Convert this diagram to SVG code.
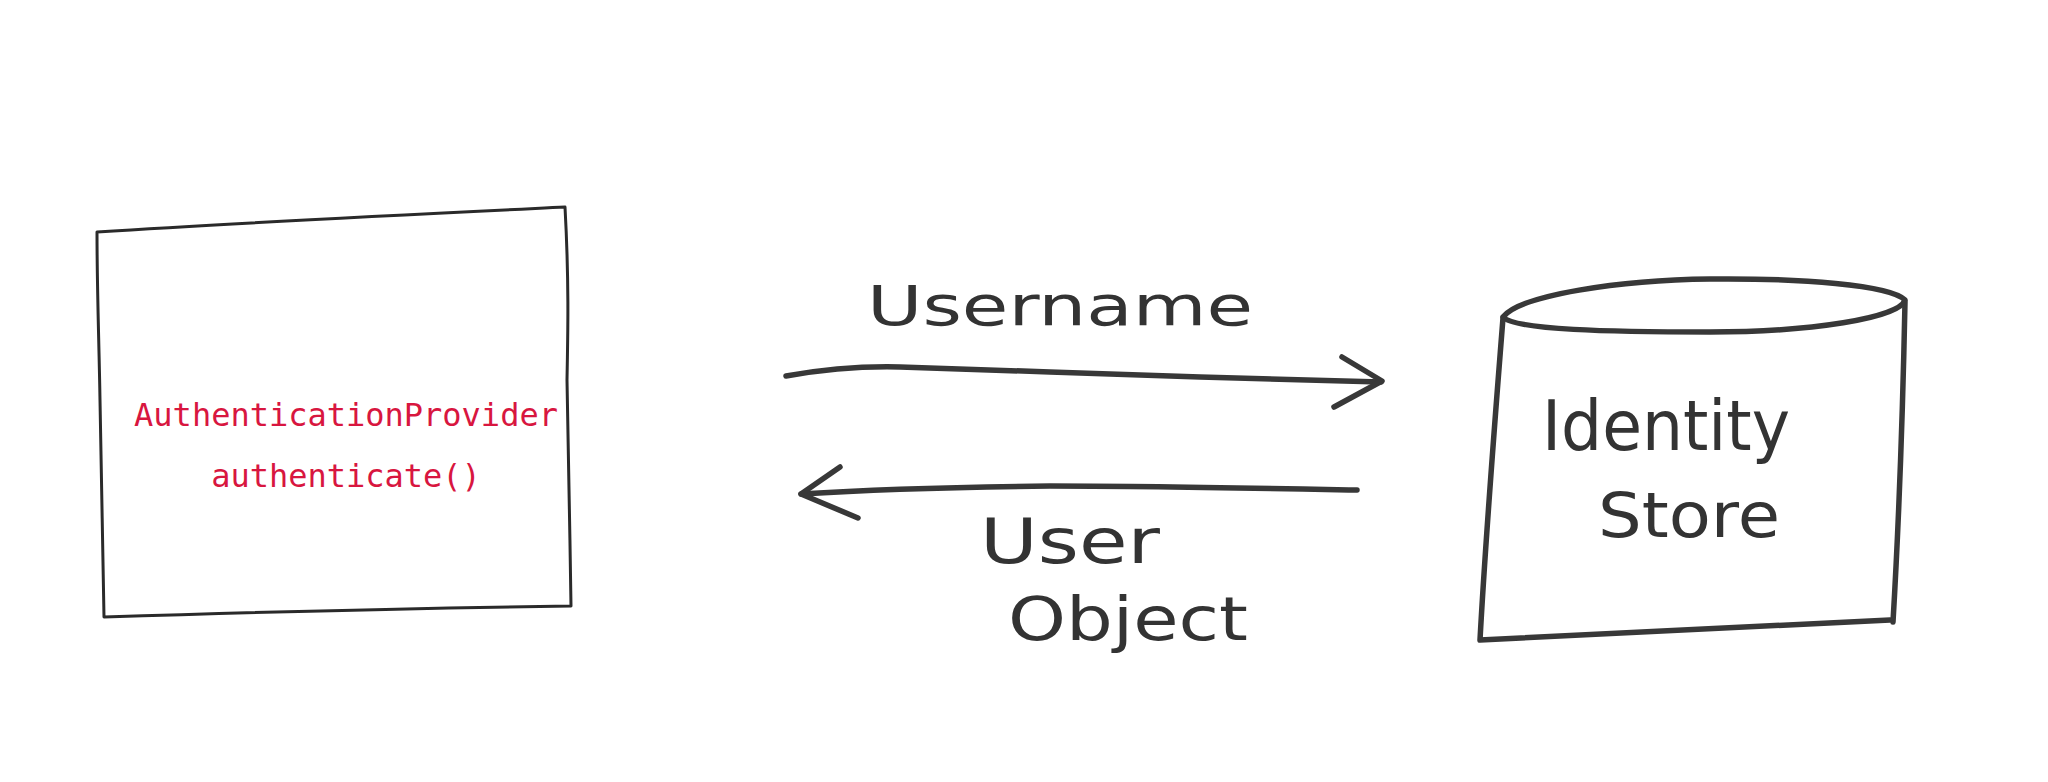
<svg xmlns="http://www.w3.org/2000/svg" width="2048" height="782" viewBox="0 0 2048 782">
<style>
.box{fill:none;stroke:#2a2a2a;stroke-width:3;stroke-linecap:round;stroke-linejoin:round}
.ink{fill:none;stroke:#383838;stroke-width:5.5;stroke-linecap:round;stroke-linejoin:round}
.code{font-family:"DejaVu Sans Mono","Liberation Mono",monospace;font-size:32px;fill:#d8163f;text-anchor:middle}
.hand{font-family:"DejaVu Sans","Liberation Sans",sans-serif;fill:#333333}
</style>
<rect width="2048" height="782" fill="#ffffff"/>
<g id="auth-provider">
<path class="box" d="M97,232 C250,222 420,214 565,207 C569,280 568,330 567,380 C568,450 570,530 571,606 C420,608 260,612 104,617 C103,540 101,480 100,400 C99,340 97,290 97,232 Z"/>
<text class="code" x="346" y="426">AuthenticationProvider</text>
<text class="code" x="346" y="487">authenticate()</text>
</g>
<g id="identity-store">
<path class="ink" d="M1503,317 C1520,295 1620,280 1710,279 C1800,278 1890,285 1905,300 C1900,318 1810,332 1710,332 C1610,332 1515,330 1503,317 Z"/>
<path class="ink" d="M1503,318 C1495,420 1486,530 1480,640 C1620,633 1760,626 1890,620"/>
<path class="ink" d="M1905,302 C1903,400 1899,520 1893,622"/>
<text class="hand" x="1542" y="450" font-size="70" textLength="248" lengthAdjust="spacingAndGlyphs">Identity</text>
<text class="hand" x="1598" y="537" font-size="62" textLength="182" lengthAdjust="spacingAndGlyphs">Store</text>
</g>
<g id="connectors">
<path class="ink" d="M786,376 C820,370 860,366 900,367 C1000,370 1100,374 1200,377 C1280,379 1340,381 1381,382"/>
<path class="ink" d="M1342,357 L1382,381 L1334,407"/>
<path class="ink" d="M1357,490 C1250,488 1150,486 1050,486 C960,487 880,489 801,494"/>
<path class="ink" d="M840,467 L801,494 L858,518"/>
<text class="hand" x="867" y="325" font-size="56" textLength="386" lengthAdjust="spacingAndGlyphs">Username</text>
<text class="hand" x="980" y="563" font-size="62" textLength="180" lengthAdjust="spacingAndGlyphs">User</text>
<text class="hand" x="1008" y="640" font-size="60" textLength="240" lengthAdjust="spacingAndGlyphs">Object</text>
</g>
</svg>
